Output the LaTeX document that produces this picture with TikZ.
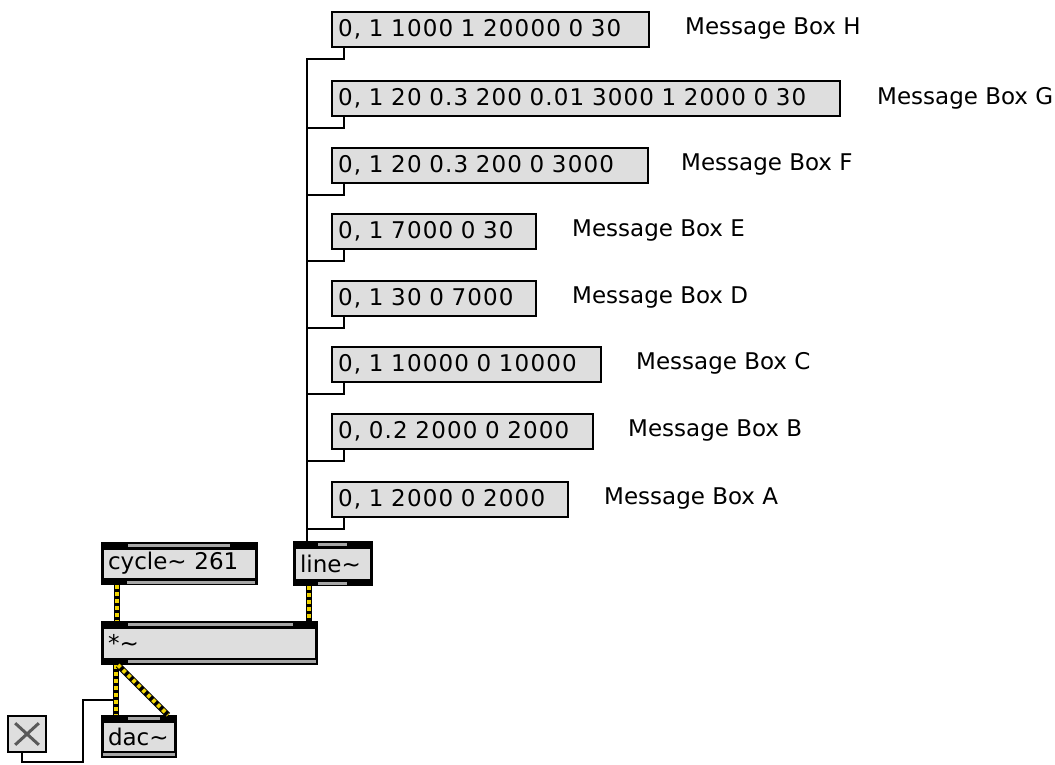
\documentclass[tikz,border=0pt]{standalone}
\usepackage{fontspec}
\setmainfont{DejaVu Sans}
\newfontfamily\msgfam[LetterSpace=5]{DejaVu Sans}
\usetikzlibrary{calc}
\definecolor{boxgray}{HTML}{DEDEDE}
\definecolor{stripgray}{HTML}{A6A6A6}
\definecolor{sigyellow}{HTML}{F2D500}
\newcommand{\msgfont}{\msgfam\fontsize{23}{27}\selectfont}
\newcommand{\lblfont}{\fontsize{23}{27}\selectfont}
\newcommand{\mytilde}{\textasciitilde}
\begin{document}
\begin{tikzpicture}[x=1pt,y=-1pt,
  msg/.style={draw=black, line width=2.4pt, fill=boxgray, anchor=north west,
    inner xsep=6pt, inner ysep=0pt, minimum height=34.6pt, align=left, font=\msgfont},
  lbl/.style={anchor=base west, inner sep=0pt, font=\lblfont},
  obj/.style={fill=black, anchor=north west, inner xsep=7pt, inner ysep=0pt, outer sep=0pt,
    align=left, font=\lblfont,
    path picture={\fill[boxgray] ([shift={(2.8,7.5)}]path picture bounding box.north west)
      rectangle ([shift={(-2.8,-7)}]path picture bounding box.south east);}},
  strip/.style={fill=stripgray},
  cord/.style={draw=black, line width=2.6pt},
  sig/.style={draw=black, line width=6pt,
    postaction={draw=sigyellow, line width=4pt, dash pattern=on 3.5pt off 3.5pt}},
  tgl/.style={draw=black, line width=2.4pt, fill=boxgray, anchor=north west,
    minimum width=37.6pt, minimum height=35.6pt, inner sep=0pt,
    path picture={
      \draw[line width=3pt, black!65] ([shift={(7,7)}]path picture bounding box.north west)
        -- ([shift={(-7,-7)}]path picture bounding box.south east);
      \draw[line width=3pt, black!65] ([shift={(-7,7)}]path picture bounding box.north east)
        -- ([shift={(7,-7)}]path picture bounding box.south west);}}
]
\useasboundingbox (0,0) rectangle (1055,764);

% message boxes
\node[msg, text width=305pt] (H) at (331,11) {0, 1 1000 1 20000 0 30};
\node[msg, text width=496pt] (G) at (331,80) {0, 1 20 0.3 200 0.01 3000 1 2000 0 30};
\node[msg, text width=304pt] (F) at (331,147) {0, 1 20 0.3 200 0 3000};
\node[msg, text width=192pt] (E) at (331,213) {0, 1 7000 0 30};
\node[msg, text width=192pt] (D) at (331,280) {0, 1 30 0 7000};
\node[msg, text width=257pt] (C) at (331,346) {0, 1 10000 0 10000};
\node[msg, text width=249pt] (B) at (331,413) {0, 0.2 2000 0 2000};
\node[msg, text width=224pt] (A) at (331,481) {0, 1 2000 0 2000};

% labels
\node[lbl] (lH) at (685,34) {Message Box H};
\node[lbl] (lG) at (877,104) {Message Box G};
\node[lbl] (lF) at (681,170.5) {Message Box F};
\node[lbl] (lE) at (572,236.5) {Message Box E};
\node[lbl] (lD) at (572,303.5) {Message Box D};
\node[lbl] (lC) at (636,369.5) {Message Box C};
\node[lbl] (lB) at (628,436.5) {Message Box B};
\node[lbl] (lA) at (604,504.5) {Message Box A};

% objects
\node[obj, text width=143pt, minimum height=43pt] (cyc) at (101,542) {cycle\mytilde{} 261};
\node[obj, text width=66pt, minimum height=45pt] (lin) at (293,541) {line\mytilde};
\node[obj, text width=203pt, minimum height=44pt] (mul) at (101,621) {*\mytilde};
\node[obj, text width=62pt, minimum height=43pt] (dac) at (101,715) {dac\mytilde};
\node[tgl] (tog) at (7,715) {};

% inlet / outlet strips
\fill[strip] (128,544) rectangle (230,546.5);
\fill[strip] (127,581) rectangle (255,583.5);
\fill[strip] (318,543) rectangle (347,545.5);
\fill[strip] (318,582) rectangle (347,584.5);
\fill[strip] (128,623) rectangle (293,625.5);
\fill[strip] (128,660) rectangle (316,662.5);
\fill[strip] (128,717) rectangle (160,719.5);
\fill[strip] (103,753) rectangle (175,755.5);

% control cords from message boxes to line~
\foreach \b in {H,G,F,E,D,C,B,A}{
  \draw[cord] ($(\b.south west)+(13,0)$) -- ++(0,11) -| ($(lin.north west)+(14,0)$);
}

% toggle cord
\draw[cord] ($(tog.south west)+(15,0)$) |- (83,762) |- ($(dac.north west)+(15,-15)$) -- ($(dac.north west)+(15,0)$);

% signal cords
\draw[sig] ($(cyc.south west)+(16,0)$) -- ($(mul.north west)+(16,0)$);
\draw[sig] ($(lin.south west)+(16,0)$) -- ($(mul.north east)+(-9,0)$);
\draw[sig] ($(mul.south west)+(15,0)$) -- ($(dac.north west)+(15,0)$);
\draw[sig] ($(mul.south west)+(17,0)$) -- ($(dac.north east)+(-9,0)$);
\end{tikzpicture}
\end{document}
